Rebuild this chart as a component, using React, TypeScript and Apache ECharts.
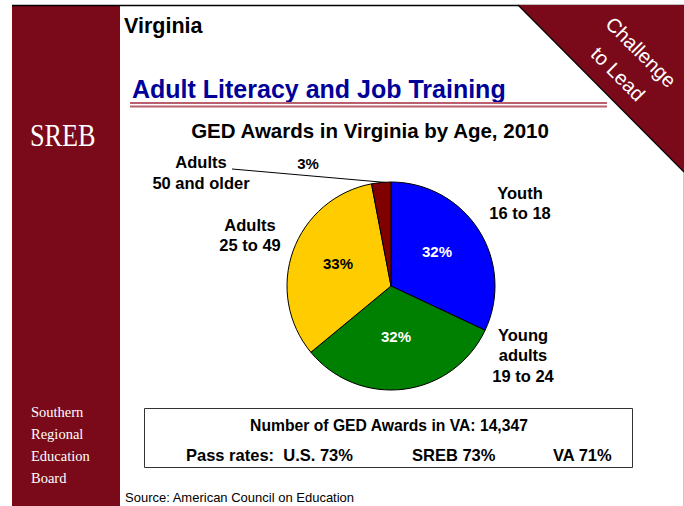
import React, { useEffect, useRef } from "react";
import * as echarts from "echarts";

const categories = ["Youth 16 to 18", "Young adults 19 to 24", "Adults 25 to 49", "Adults 50 and older"];
const shares = [32, 32, 33, 3];
const sliceColors = ["#0000ff", "#008000", "#ffcc00", "#800000"];
const percentColors = ["#ffffff", "#ffffff", "#000000", "#000000"];
const totalAwards = "14,347";
const passRates = [
  { label: "U.S.", value: 73 },
  { label: "SREB", value: 73 },
  { label: "VA", value: 71 },
];

const MAROON = "#7a0a1a";
const SANS = "'Liberation Sans', Arial, sans-serif";
const SERIF = "'Liberation Serif', 'Times New Roman', serif";

export default function App() {
  const ref = useRef<HTMLDivElement>(null);
  useEffect(() => {
    if (!ref.current) return;
    const chart = echarts.init(ref.current, null, { renderer: "svg" });
    const txt = (text: string, x: number, y: number, font: string, fill = "#000", align = "center", extra: any = {}) => ({
      type: "text",
      x,
      y,
      silent: true,
      ...extra,
      style: { text, x: 0, y: 0, font, fill, textAlign: align, textVerticalAlign: "middle" },
    });
    const LBL = `bold 16.5px ${SANS}`;
    const BOX = `bold 16.5px ${SANS}`;
    const graphic: any[] = [
      { type: "rect", shape: { x: 12, y: 5, width: 108, height: 501 }, style: { fill: MAROON } },
      { type: "line", shape: { x1: 12, y1: 5.5, x2: 684, y2: 5.5 }, style: { stroke: "#000", lineWidth: 1.5 } },
      { type: "line", shape: { x1: 683.5, y1: 172, x2: 683.5, y2: 506 }, style: { stroke: "#c8c8c8", lineWidth: 1 } },
      { type: "polygon", shape: { points: [[518, 5], [684, 5], [684, 172]] }, style: { fill: MAROON } },
      { type: "line", shape: { x1: 518, y1: 5, x2: 684, y2: 172 }, style: { stroke: "#000", lineWidth: 1.2 } },
      txt("Challenge", 641, 52, `20px ${SANS}`, "#fff", "center", { rotation: -Math.PI / 4 }),
      txt("to Lead", 618, 74, `20px ${SANS}`, "#fff", "center", { rotation: -Math.PI / 4 }),
      txt("SREB", 30, 135, `32px ${SERIF}`, "#fff", "left", { scaleX: 0.82 }),
      txt("Southern", 31, 412, `14.5px ${SERIF}`, "#fff", "left"),
      txt("Regional", 31, 434, `14.5px ${SERIF}`, "#fff", "left"),
      txt("Education", 31, 456, `14.5px ${SERIF}`, "#fff", "left"),
      txt("Board", 31, 478, `14.5px ${SERIF}`, "#fff", "left"),
      txt("Virginia", 124, 26, `bold 21.5px ${SANS}`, "#000", "left"),
      txt("Adult Literacy and Job Training", 132, 89, `bold 25px ${SANS}`, "#000099", "left"),
      { type: "rect", shape: { x: 130, y: 102, width: 477, height: 2 }, style: { fill: "#b8606e" } },
      { type: "rect", shape: { x: 130, y: 105.5, width: 477, height: 2 }, style: { fill: "#b8606e" } },
      txt("GED Awards in Virginia by Age, 2010", 370, 130, `bold 20.5px ${SANS}`, "#000", "center"),
      txt("Youth", 520, 193, LBL),
      txt("16 to 18", 520, 213, LBL),
      txt("Young", 523, 335, LBL),
      txt("adults", 523, 355, LBL),
      txt("19 to 24", 523, 376, LBL),
      txt("Adults", 250, 225, LBL),
      txt("25 to 49", 250, 245, LBL),
      txt("Adults", 201, 162, LBL),
      txt("50 and older", 201, 183, LBL),
      { type: "line", shape: { x1: 232, y1: 169, x2: 386, y2: 182.5 }, style: { stroke: "#000", lineWidth: 1 } },
      { type: "rect", shape: { x: 144.5, y: 408.5, width: 488, height: 59 }, style: { fill: "#fff", stroke: "#333", lineWidth: 1 } },
      txt(`Number of GED Awards in VA: ${totalAwards}`, 389, 425, `bold 15.7px ${SANS}`),
      txt(`Pass rates:  ${passRates[0].label} ${passRates[0].value}%`, 186, 455, BOX, "#000", "left"),
      txt(`${passRates[1].label} ${passRates[1].value}%`, 412, 455, BOX, "#000", "left"),
      txt(`${passRates[2].label} ${passRates[2].value}%`, 553, 455, BOX, "#000", "left"),
      txt("Source: American Council on Education", 125, 497, `13px ${SANS}`, "#000", "left"),
    ];
    chart.setOption({
      animation: false,
      backgroundColor: "#fff",
      graphic,
      series: [
        {
          type: "pie",
          center: [391, 286],
          radius: 104,
          startAngle: 90,
          clockwise: true,
          silent: true,
          itemStyle: { borderColor: "#000", borderWidth: 1 },
          labelLine: { show: false },
          data: shares.map((v, i) => ({
            name: categories[i],
            value: v,
            itemStyle: { color: sliceColors[i] },
            label: {
              show: true,
              position: i === 3 ? "outside" : "inside",
              formatter: "{c}%",
              color: percentColors[i],
              fontFamily: SANS,
              fontWeight: "bold",
              fontSize: 15,
            },
          })),
          labelLayout: (p: any) => {
            if (p.dataIndex === 3) return { x: 308, y: 163, align: "center", verticalAlign: "middle" };
            if (p.dataIndex === 0) return { x: 437, y: 251, align: "center", verticalAlign: "middle" };
            if (p.dataIndex === 1) return { x: 396, y: 336, align: "center", verticalAlign: "middle" };
            return { x: 338, y: 263, align: "center", verticalAlign: "middle" };
          },
        },
      ],
    });
    return () => chart.dispose();
  }, []);
  return <div ref={ref} style={{ position: "absolute", left: 0, top: 0, width: 684, height: 506 }} />;
}
